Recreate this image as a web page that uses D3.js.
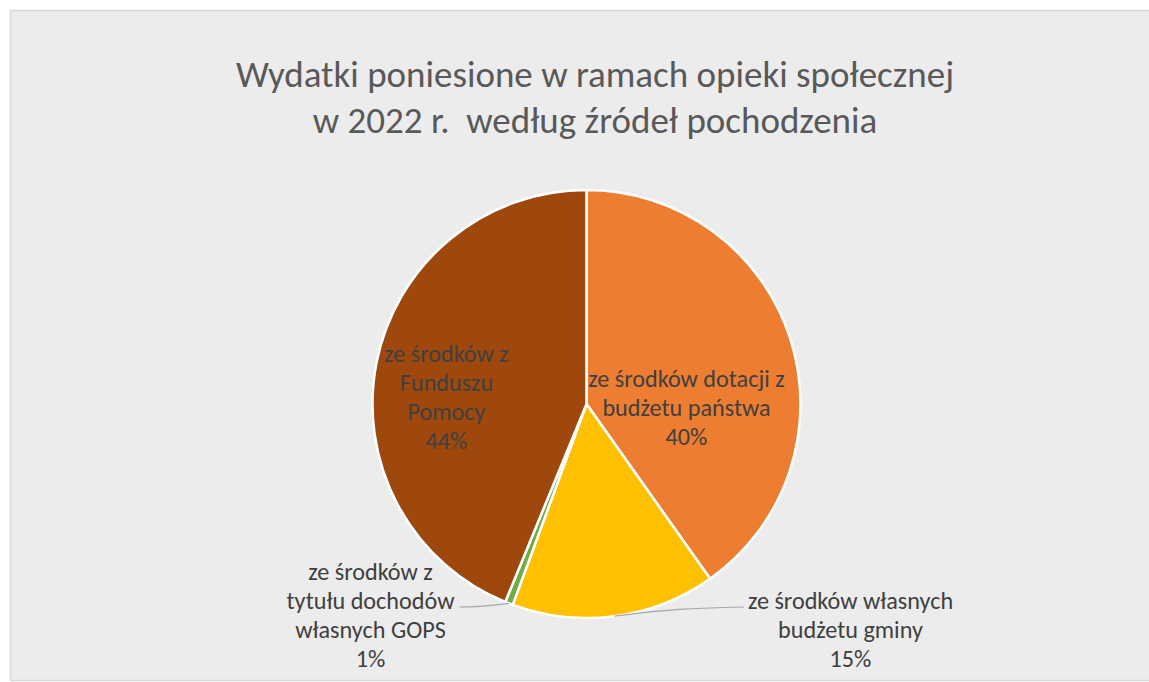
<!DOCTYPE html>
<html>
<head>
<meta charset="utf-8">
<script src="https://cdn.jsdelivr.net/npm/d3@7"></script>
<style>
  html, body { margin: 0; padding: 0; background: #ffffff; }
  svg { display: block; }
  text { font-family: Calibri, Carlito, Lato, "Open Sans", sans-serif; white-space: pre; }
</style>
</head>
<body>
<svg id="chart" width="1149" height="682"></svg>
<script>
// ---- data ----
const titleLines = ["Wydatki poniesione w ramach opieki społecznej", "w 2022 r.  według źródeł pochodzenia"];
const categories = [
  "ze środków dotacji z budżetu państwa",
  "ze środków własnych budżetu gminy",
  "ze środków z tytułu dochodów własnych GOPS",
  "ze środków z Funduszu Pomocy"
];
const labelLines = [
  ["ze środków dotacji z", "budżetu państwa"],
  ["ze środków własnych", "budżetu gminy"],
  ["ze środków z", "tytułu dochodów", "własnych GOPS"],
  ["ze środków z", "Funduszu", "Pomocy"]
];
const values = [40.2, 15.4, 0.6, 43.8];
const colors = ["#ED7D31", "#FFC000", "#70AD47", "#9E480E"];

// ---- layout ----
const W = 1149, H = 682;
const cx = 586.5, cy = 404, R = 214;
const lineH = 29;
const labelLayout = [
  { dx: 100, dy: -17, leader: null },
  { dx: 264, dy: 205, leader: "left" },
  { dx: -216, dy: 176, leader: "right" },
  { dx: -140, dy: -42, leader: null }
];

const svg = d3.select("#chart");

svg.append("rect")
  .attr("x", 10.5).attr("y", 10.5)
  .attr("width", W).attr("height", H - 12)
  .attr("fill", "#ececec")
  .attr("stroke", "#d9d9d9").attr("stroke-width", 1.5);

const title = svg.append("text")
  .attr("text-anchor", "middle")
  .attr("fill", "#595959")
  .attr("font-size", 37);
titleLines.forEach((t, i) => {
  title.append("tspan").attr("x", 595).attr("y", 87 + i * 46).text(t);
});

const pie = d3.pie().sort(null).value(d => d)(values);
const arc = d3.arc().innerRadius(0).outerRadius(R);
const g = svg.append("g").attr("transform", `translate(${cx},${cy})`);
g.selectAll("path.slice")
  .data(pie)
  .join("path")
  .attr("class", "slice")
  .attr("d", arc)
  .attr("fill", (d, i) => colors[i])
  .attr("stroke", "#ffffff")
  .attr("stroke-width", 2.5)
  .attr("stroke-linejoin", "round");

const total = d3.sum(values);
const fmt = v => Math.round(v / total * 100) + "%";

pie.forEach((d, i) => {
  const L = labelLayout[i];
  const lines = labelLines[i].concat([fmt(values[i])]);
  const x0 = L.dx, y0 = L.dy;
  const t = g.append("text")
    .attr("text-anchor", "middle")
    .attr("fill", "#404040")
    .attr("font-size", 24.2);
  const spans = lines.map((s, k) =>
    t.append("tspan").attr("x", x0).attr("y", y0 + k * lineH).text(s)
  );
  if (L.leader) {
    const mid = (d.startAngle + d.endAngle) / 2;
    const sx = R * Math.sin(mid), sy = -R * Math.cos(mid);
    let ex, ey;
    if (L.leader === "left") {
      const w = spans[0].node().getComputedTextLength();
      ex = x0 - w / 2 - 4; ey = y0 - 2;
    } else {
      const w = spans[1].node().getComputedTextLength();
      ex = x0 + w / 2 + 5; ey = y0 + lineH - 2;
    }
    g.insert("path", "text")
      .attr("d", d3.line().curve(d3.curveBasis)([[sx, sy], [sx + (ex - sx) * 0.5, sy + (ey - sy) * 0.85], [ex, ey]]))
      .attr("fill", "none")
      .attr("stroke", "#a6a6a6")
      .attr("stroke-width", 1.2);
  }
});
</script>
</body>
</html>
